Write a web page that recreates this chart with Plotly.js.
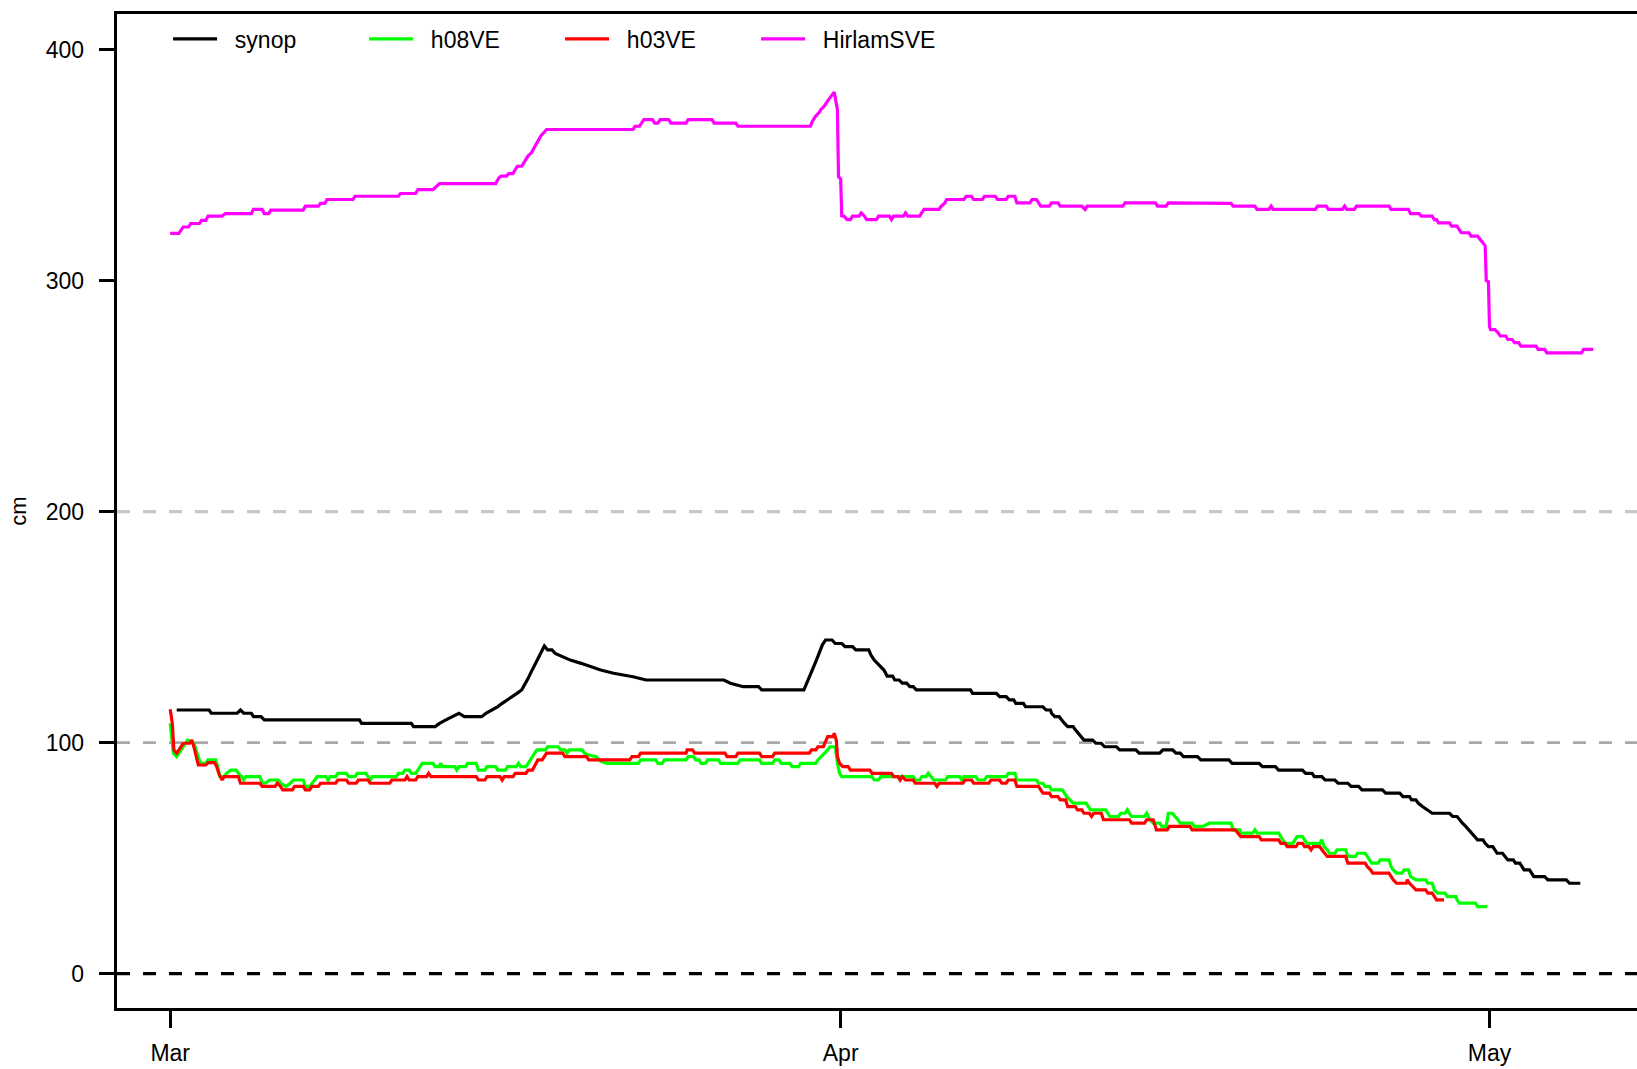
<!DOCTYPE html>
<html>
<head>
<meta charset="utf-8">
<script src="https://cdn.plot.ly/plotly-3.0.1.min.js"></script>
<style>
  html, body { margin: 0; padding: 0; background: #ffffff; overflow: hidden; }
  #chart { width: 1637px; height: 1069px; }
</style>
</head>
<body>
<div id="chart"></div>
<script>
// Snow depth (cm), spring season. Day offsets are counted from 1 March.
const seasonStart = [2008, 2, 1];

const monthTicks = ['2008-03-01', '2008-04-01', '2008-05-01'];
const monthLabels = ['Mar', 'Apr', 'May'];
const depthTicks = [0, 100, 200, 300, 400];
const refLevels = [0, 100, 200];

// synop observations
const synopDays = [
  0.3, 1.8, 1.9, 3.1, 3.25, 3.4, 3.75, 3.85, 4.2, 4.35,
  8.75, 8.85, 11.15, 11.25, 12.25, 12.45, 12.75, 13.05, 13.35, 13.6,
  14.4, 14.6, 14.9, 15.15, 15.35, 15.6, 15.85, 16.05, 16.25, 16.4,
  16.55, 16.7, 16.85, 17.0, 17.15, 17.3, 17.45, 17.65, 17.8, 18.1,
  18.5, 19.0, 19.45, 19.9, 20.5, 21.4, 22.0, 25.6, 25.9, 26.5,
  27.2, 27.35, 29.3, 29.4, 29.55, 29.7, 29.85, 30.0, 30.15, 30.3,
  30.6, 30.75, 31.05, 31.2, 31.55, 31.7, 32.3, 32.4, 32.55, 32.7,
  32.85, 33.0, 33.15, 33.4, 33.5, 33.7, 33.85, 34.05, 34.2, 34.35,
  34.5, 37.0, 37.1, 38.2, 38.35, 38.65, 38.8, 39.0, 39.1, 39.45,
  39.55, 40.35, 40.5, 40.7, 40.75, 40.9, 41.1, 41.2, 41.35, 41.5,
  41.75, 41.85, 42.0, 42.1, 42.25, 42.65, 42.8, 43.05, 43.2, 43.75,
  43.9, 44.65, 44.8, 45.75, 45.9, 46.35, 46.5, 46.7, 46.85, 47.5,
  47.65, 48.95, 49.1, 50.35, 50.5, 51.1, 51.25, 52.35, 52.5, 52.8,
  52.9, 53.25, 53.4, 53.85, 54.0, 54.45, 54.6, 54.95, 55.1, 56.05,
  56.2, 56.85, 57.0, 57.3, 57.4, 57.6, 57.7, 57.9, 58.15, 58.35,
  59.15, 59.3, 59.5, 59.6, 59.75, 59.9, 60.05, 60.2, 60.35, 60.45,
  60.7, 60.8, 60.95, 61.15, 61.25, 61.35, 61.6, 61.7, 61.85, 62.1,
  62.2, 62.4, 62.5, 62.6, 62.85, 62.95, 63.05, 63.55, 63.7, 64.55,
  64.7, 65.2
];
const synopCm = [
  114.1, 114.1, 112.7, 112.7, 114.1, 112.7, 112.7, 111.2, 111.2, 109.8,
  109.8, 108.3, 108.3, 106.9, 106.9, 108.3, 109.8, 111.2, 112.7, 111.2,
  111.2, 112.7, 114.1, 115.6, 117.0, 118.5, 119.9, 121.4, 122.8, 125.0,
  127.8, 130.7, 133.6, 136.5, 139.3, 141.8, 140.1, 140.1, 138.6, 137.2,
  135.7, 134.3, 132.8, 131.4, 130.0, 128.5, 127.1, 127.1, 125.7, 124.2,
  124.2, 122.8, 122.8, 125.0, 127.8, 131.7, 135.0, 138.6, 142.2, 144.4,
  144.4, 142.9, 142.9, 141.5, 141.5, 140.1, 140.1, 137.9, 135.7, 134.3,
  132.8, 131.4, 128.8, 128.8, 127.1, 127.1, 125.7, 125.7, 124.2, 124.2,
  122.8, 122.8, 121.3, 121.3, 119.9, 119.9, 118.5, 118.5, 117.0, 117.0,
  115.5, 115.5, 114.1, 114.1, 112.7, 111.2, 111.2, 109.8, 108.3, 106.9,
  106.9, 105.5, 104.0, 102.6, 101.1, 101.1, 99.7, 99.7, 98.2, 98.2,
  96.8, 96.8, 95.4, 95.4, 96.8, 96.8, 95.4, 95.4, 93.9, 93.9,
  92.5, 92.5, 91.0, 91.0, 89.6, 89.6, 88.1, 88.1, 86.7, 86.7,
  85.3, 85.3, 83.8, 83.8, 82.4, 82.4, 81.0, 81.0, 79.5, 79.5,
  78.1, 78.1, 76.6, 76.6, 75.2, 75.2, 73.8, 72.3, 70.9, 69.4,
  69.4, 68.0, 68.0, 66.6, 65.1, 63.7, 62.2, 60.8, 59.3, 57.9,
  57.9, 56.4, 55.0, 55.0, 53.6, 52.1, 52.1, 50.7, 49.2, 49.2,
  47.8, 47.8, 46.3, 44.9, 44.9, 43.5, 42.0, 42.0, 40.6, 40.6,
  39.1, 39.1
];

// h08VE model run
const h08Days = [
  0.0, 0.15, 0.3, 0.5, 0.8, 1.1, 1.25, 1.4, 1.65, 1.75,
  2.1, 2.2, 2.3, 2.5, 2.6, 2.8, 3.05, 3.15, 3.3, 3.4,
  3.5, 4.15, 4.25, 4.4, 4.6, 5.0, 5.1, 5.35, 5.55, 5.7,
  6.15, 6.25, 6.45, 6.55, 6.65, 6.8, 7.2, 7.3, 7.4, 7.65,
  7.75, 8.15, 8.25, 8.55, 8.65, 9.05, 9.15, 9.25, 9.35, 10.45,
  10.55, 10.75, 10.85, 11.05, 11.15, 11.35, 11.45, 11.55, 11.65, 12.15,
  12.25, 12.45, 12.5, 12.6, 13.15, 13.25, 13.35, 13.65, 13.75, 14.15,
  14.25, 14.55, 14.65, 15.05, 15.15, 15.5, 15.6, 16.0, 16.1, 16.2,
  16.45, 16.55, 16.65, 16.8, 16.95, 17.35, 17.45, 17.95, 18.05, 18.25,
  18.35, 18.45, 19.05, 19.15, 19.4, 19.7, 19.9, 20.2, 21.65, 21.75,
  22.45, 22.55, 22.75, 22.85, 23.85, 23.95, 24.2, 24.3, 24.45, 24.55,
  24.75, 24.85, 25.35, 25.45, 26.25, 26.35, 27.25, 27.35, 27.85, 27.95,
  28.15, 28.25, 28.65, 28.75, 29.05, 29.15, 29.85, 29.95, 30.1, 30.25,
  30.4, 30.5, 30.75, 30.85, 30.95, 31.05, 32.45, 32.55, 32.75, 32.85,
  34.35, 34.45, 34.65, 34.75, 34.95, 35.05, 35.15, 35.3, 35.85, 35.95,
  36.5, 36.6, 36.7, 37.25, 37.35, 37.65, 37.75, 38.65, 38.75, 39.05,
  39.15, 40.05, 40.15, 40.35, 40.45, 40.65, 40.75, 41.25, 41.35, 41.45,
  41.6, 41.75, 42.35, 42.45, 42.55, 43.25, 43.35, 43.45, 43.85, 43.95,
  44.15, 44.25, 44.35, 44.45, 45.05, 45.15, 45.3, 45.45, 45.75, 45.85,
  46.05, 46.15, 46.35, 46.45, 46.6, 46.7, 47.25, 47.35, 47.75, 48.05,
  49.05, 49.15, 49.45, 49.5, 50.05, 50.15, 50.25, 51.25, 51.35, 51.45,
  51.55, 51.9, 52.0, 52.1, 52.35, 52.45, 52.55, 53.15, 53.25, 53.35,
  53.5, 53.6, 53.85, 53.95, 54.35, 54.45, 54.8, 54.9, 55.25, 55.35,
  55.45, 55.55, 55.85, 55.95, 56.35, 56.45, 56.55, 56.7, 56.95, 57.05,
  57.25, 57.35, 57.6, 58.05, 58.15, 58.35, 58.45, 58.6, 58.95, 59.05,
  59.45, 59.5, 59.6, 60.35, 60.45, 60.9
];
const h08Cm = [
  108.3, 95.4, 93.9, 97.0, 101.1, 99.7, 95.0, 91.0, 91.0, 92.5,
  92.5, 89.6, 85.3, 85.3, 86.7, 88.1, 88.1, 86.7, 85.3, 83.8,
  85.3, 85.3, 82.4, 82.4, 83.8, 83.8, 82.4, 81.0, 82.4, 83.8,
  83.8, 81.0, 81.0, 82.4, 83.8, 85.3, 85.3, 83.8, 85.3, 85.3,
  86.7, 86.7, 85.3, 85.3, 86.7, 86.7, 85.3, 83.8, 85.3, 85.3,
  86.7, 86.7, 88.1, 88.1, 86.7, 86.7, 88.1, 89.6, 91.0, 91.0,
  89.6, 89.6, 91.0, 89.6, 89.6, 88.1, 89.6, 89.6, 91.0, 91.0,
  88.1, 88.1, 89.6, 89.6, 88.1, 88.1, 89.6, 89.6, 91.0, 89.6,
  89.6, 91.0, 92.5, 94.5, 96.8, 96.8, 98.2, 98.2, 96.8, 96.8,
  95.4, 96.8, 96.8, 95.4, 94.5, 93.9, 92.0, 91.0, 91.0, 92.5,
  92.5, 91.0, 91.0, 92.5, 92.5, 93.9, 93.9, 92.5, 92.5, 91.0,
  91.0, 92.5, 92.5, 91.0, 91.0, 92.5, 92.5, 91.0, 91.0, 92.5,
  92.5, 91.0, 91.0, 89.6, 89.6, 91.0, 91.0, 92.5, 93.9, 95.4,
  96.8, 98.2, 98.2, 91.0, 86.7, 85.3, 85.3, 83.8, 83.8, 85.3,
  85.3, 83.8, 83.8, 85.3, 85.3, 86.7, 85.3, 83.8, 83.8, 85.3,
  85.3, 83.8, 85.3, 85.3, 83.8, 83.8, 85.3, 85.3, 86.7, 86.7,
  83.8, 83.8, 82.4, 82.4, 81.0, 81.0, 79.5, 79.5, 78.1, 76.6,
  75.2, 73.8, 73.8, 72.3, 70.9, 70.9, 69.4, 68.0, 68.0, 69.4,
  69.4, 70.9, 69.4, 68.0, 68.0, 69.4, 66.6, 65.1, 65.1, 63.7,
  63.7, 69.4, 69.4, 68.0, 66.6, 65.1, 65.1, 63.7, 63.7, 65.1,
  65.1, 62.2, 62.2, 60.8, 60.8, 62.2, 60.8, 60.8, 59.3, 57.9,
  56.4, 56.4, 57.9, 59.3, 59.3, 57.9, 56.4, 56.4, 57.9, 55.0,
  53.6, 52.1, 52.1, 53.6, 53.6, 50.7, 50.7, 52.1, 52.1, 50.7,
  49.2, 47.8, 47.8, 49.2, 49.2, 46.3, 44.9, 43.5, 43.5, 44.9,
  44.9, 42.0, 40.6, 40.6, 39.1, 39.1, 36.2, 34.8, 34.8, 33.3,
  33.3, 31.9, 30.5, 30.5, 29.0, 29.0
];

// h03VE model run
const h03Days = [
  0.0, 0.1, 0.17, 0.3, 0.45, 0.6, 0.9, 1.0, 1.1, 1.2,
  1.3, 1.65, 1.75, 2.05, 2.15, 2.25, 2.4, 2.5, 3.15, 3.25,
  4.15, 4.25, 4.85, 4.95, 5.1, 5.2, 5.65, 5.75, 6.15, 6.25,
  6.45, 6.55, 6.85, 6.95, 7.65, 7.75, 8.15, 8.25, 8.6, 8.7,
  9.15, 9.25, 10.15, 10.25, 10.85, 10.95, 11.05, 11.35, 11.45, 11.85,
  11.95, 12.05, 14.15, 14.25, 14.55, 14.65, 15.25, 15.35, 15.45, 15.85,
  15.95, 16.45, 16.55, 16.75, 16.85, 17.0, 17.2, 17.3, 17.4, 18.15,
  18.25, 19.25, 19.35, 21.25, 21.35, 21.65, 21.75, 23.85, 23.9, 24.15,
  24.25, 25.65, 25.75, 26.15, 26.25, 27.25, 27.35, 27.85, 27.95, 29.55,
  29.65, 29.85, 29.95, 30.2, 30.3, 30.4, 30.65, 30.7, 30.8, 30.85,
  30.95, 31.1, 31.35, 31.45, 32.35, 32.45, 33.35, 33.45, 33.65, 33.75,
  33.85, 34.0, 34.35, 34.45, 35.35, 35.45, 35.55, 36.65, 36.75, 37.05,
  37.15, 37.85, 37.95, 38.35, 38.45, 38.65, 38.75, 39.05, 39.15, 40.15,
  40.25, 40.35, 40.65, 40.75, 41.05, 41.15, 41.4, 41.5, 41.85, 41.95,
  42.15, 42.25, 42.5, 42.6, 42.7, 43.05, 43.15, 44.35, 44.45, 45.05,
  45.15, 45.45, 45.55, 45.6, 46.1, 46.2, 47.15, 47.25, 49.25, 49.35,
  49.5, 50.35, 50.45, 51.25, 51.35, 51.55, 51.65, 52.05, 52.15, 52.35,
  52.45, 52.65, 52.75, 52.85, 53.15, 53.25, 53.4, 53.5, 54.35, 54.45,
  55.25, 55.35, 55.5, 55.6, 56.35, 56.45, 56.55, 56.7, 57.15, 57.2,
  57.3, 57.45, 57.6, 58.05, 58.15, 58.35, 58.45, 58.55, 58.9
];
const h03Cm = [
  114.4, 108.0, 96.8, 95.4, 97.5, 99.7, 99.7, 101.1, 98.0, 94.0,
  90.3, 90.3, 91.3, 91.3, 89.6, 86.5, 83.8, 85.3, 85.3, 82.4,
  82.4, 81.0, 81.0, 82.4, 81.0, 79.5, 79.5, 81.0, 81.0, 79.5,
  79.5, 81.0, 81.0, 82.4, 82.4, 83.8, 83.8, 82.4, 82.4, 83.8,
  83.8, 82.4, 82.4, 83.8, 83.8, 85.3, 83.8, 83.8, 85.3, 85.3,
  86.7, 85.3, 85.3, 83.8, 83.8, 85.3, 85.3, 83.8, 85.3, 85.3,
  86.7, 86.7, 88.1, 88.1, 89.6, 92.5, 92.5, 93.9, 95.4, 95.4,
  93.9, 93.9, 92.5, 92.5, 93.9, 93.9, 95.4, 95.4, 96.8, 96.8,
  95.4, 95.4, 93.9, 93.9, 95.4, 95.4, 93.9, 93.9, 95.4, 95.4,
  96.8, 96.8, 98.2, 98.2, 100.4, 102.6, 102.6, 104.0, 101.0, 94.0,
  91.0, 89.6, 89.6, 88.1, 88.1, 86.7, 86.7, 85.3, 85.3, 83.8,
  85.3, 83.8, 83.8, 82.4, 82.4, 81.0, 82.4, 82.4, 83.8, 83.8,
  82.4, 82.4, 83.8, 83.8, 82.4, 82.4, 83.8, 83.8, 81.0, 81.0,
  79.5, 78.1, 78.1, 76.6, 76.6, 75.2, 75.2, 72.3, 72.3, 70.9,
  70.9, 69.4, 69.4, 68.0, 69.4, 69.4, 66.6, 66.6, 65.1, 65.1,
  66.6, 66.6, 63.7, 62.2, 62.2, 63.7, 63.7, 62.2, 62.2, 60.8,
  59.3, 59.3, 57.9, 57.9, 56.4, 56.4, 55.0, 55.0, 56.4, 56.4,
  55.0, 55.0, 53.6, 55.0, 55.0, 53.6, 52.1, 50.7, 50.7, 47.8,
  47.8, 46.3, 44.9, 43.5, 43.5, 42.0, 40.6, 39.1, 39.1, 40.6,
  39.1, 37.7, 36.2, 36.2, 34.8, 34.8, 33.3, 31.9, 31.9
];

// HirlamSVE
const hirlamDays = [
  0.0, 0.4, 0.5, 0.6, 0.85, 0.95, 1.35, 1.45, 1.65, 1.75,
  2.4, 2.55, 3.75, 3.85, 4.25, 4.35, 4.55, 4.65, 6.15, 6.25,
  6.85, 6.95, 7.15, 7.25, 8.45, 8.55, 10.55, 10.65, 11.35, 11.45,
  12.15, 12.3, 12.45, 15.05, 15.2, 15.3, 15.55, 15.65, 15.85, 15.95,
  16.05, 16.25, 16.4, 16.55, 16.7, 16.85, 17.0, 17.15, 17.3, 17.4,
  21.4, 21.5, 21.7, 21.8, 21.9, 22.3, 22.4, 22.55, 22.65, 23.05,
  23.15, 23.85, 23.95, 25.05, 25.15, 26.15, 26.25, 29.6, 29.7, 29.85,
  30.0, 30.1, 30.25, 30.4, 30.55, 30.7, 30.85, 30.9, 31.0, 31.05,
  31.15, 31.3, 31.45, 31.55, 31.85, 31.95, 32.1, 32.2, 32.65, 32.75,
  33.25, 33.35, 33.45, 33.9, 34.0, 34.1, 34.65, 34.75, 34.85, 35.55,
  35.65, 35.8, 35.9, 36.7, 36.8, 37.05, 37.15, 37.55, 37.65, 38.15,
  38.25, 38.65, 38.75, 39.05, 39.15, 39.75, 39.85, 40.05, 40.15, 40.25,
  40.65, 40.75, 41.05, 41.15, 42.15, 42.3, 42.4, 44.05, 44.15, 45.55,
  45.65, 46.05, 46.15, 49.05, 49.15, 50.15, 50.25, 50.8, 50.9, 51.0,
  52.95, 53.05, 53.45, 53.55, 54.2, 54.3, 54.4, 54.75, 54.85, 56.35,
  56.45, 57.25, 57.35, 57.75, 57.85, 58.35, 58.45, 58.55, 58.65, 59.15,
  59.25, 59.5, 59.6, 59.7, 60.05, 60.15, 60.45, 60.55, 60.7, 60.8,
  60.85, 60.95, 61.0, 61.05, 61.25, 61.4, 61.5, 61.75, 61.85, 62.05,
  62.15, 62.35, 62.45, 63.15, 63.25, 63.55, 63.65, 65.25, 65.35, 65.8
];
const hirlamCm = [
  320.4, 320.4, 321.8, 323.2, 323.2, 324.7, 324.7, 326.1, 326.1, 327.9,
  327.9, 329.0, 329.0, 330.8, 330.8, 329.0, 329.0, 330.5, 330.5, 332.2,
  332.2, 333.4, 333.4, 335.1, 335.1, 336.5, 336.5, 337.7, 337.7, 339.4,
  339.4, 340.8, 342.0, 342.0, 344.5, 345.2, 345.2, 346.3, 346.3, 348.0,
  349.5, 349.5, 352.0, 354.0, 355.3, 358.0, 360.0, 362.8, 364.3, 365.4,
  365.4, 366.8, 366.8, 368.2, 369.7, 369.7, 368.2, 368.2, 369.7, 369.7,
  368.2, 368.2, 369.7, 369.7, 368.2, 368.2, 366.8, 366.8, 369.1, 371.2,
  372.7, 374.2, 375.6, 377.8, 379.9, 381.6, 374.0, 345.0, 344.0, 328.0,
  327.9, 326.4, 326.4, 327.9, 327.9, 329.3, 327.9, 326.4, 326.4, 327.9,
  327.9, 326.4, 327.9, 327.9, 329.3, 327.9, 327.9, 329.3, 330.8, 330.8,
  332.2, 333.4, 335.1, 335.1, 336.5, 336.5, 335.1, 335.1, 336.5, 336.5,
  335.1, 335.1, 336.5, 336.5, 333.6, 333.6, 335.1, 335.1, 333.6, 332.2,
  332.2, 333.6, 333.6, 332.2, 332.2, 330.8, 332.2, 332.2, 333.6, 333.6,
  332.2, 332.2, 333.6, 333.4, 332.2, 332.2, 330.8, 330.8, 332.2, 330.8,
  330.8, 332.2, 332.2, 330.8, 330.8, 332.2, 330.8, 330.8, 332.2, 332.2,
  330.8, 330.8, 329.0, 329.0, 327.9, 327.9, 326.4, 326.4, 325.0, 325.0,
  323.6, 323.6, 322.1, 320.7, 320.7, 319.2, 319.2, 317.8, 316.3, 315.0,
  300.0, 299.5, 280.0, 278.8, 278.8, 277.4, 276.0, 276.0, 274.5, 274.5,
  273.1, 273.1, 271.6, 271.6, 270.2, 270.2, 268.7, 268.7, 270.2, 270.2
];

const seriesNames = ['synop', 'h08VE', 'h03VE', 'HirlamSVE'];
const seriesColors = ['#000000', '#00ff00', '#ff0000', '#ff00ff'];

// Convert day offsets into date strings for the date axis
const t0 = Date.UTC(seasonStart[0], seasonStart[1], seasonStart[2]);
function dayToDate(d) {
  const s = new Date(t0 + Math.round(d * 86400000)).toISOString();
  return s.slice(0, 10) + ' ' + s.slice(11, 19);
}

const dayArrays = [synopDays, h08Days, h03Days, hirlamDays];
const cmArrays = [synopCm, h08Cm, h03Cm, hirlamCm];

// legend labels sit a little further from their line keys
const legendPad = '\u00a0\u00a0';

const traces = seriesNames.map((name, i) => ({
  type: 'scatter',
  mode: 'lines',
  name: legendPad + name,
  x: dayArrays[i].map(dayToDate),
  y: cmArrays[i],
  line: { color: seriesColors[i], width: 3.2, shape: 'linear' },
  hoverinfo: 'x+y'
}));

const refStyles = [
  { color: '#000000', width: 3.4, dash: '13px,13px' },
  { color: '#a8a8a8', width: 2.6, dash: '13px,13px' },
  { color: '#c8c8c8', width: 3.2, dash: '13px,13px' }
];
const shapes = refLevels.map((lvl, i) => ({
  type: 'line', xref: 'paper', yref: 'y',
  x0: 0, x1: 1, y0: lvl, y1: lvl,
  layer: 'below',
  line: refStyles[i]
}));

const fontFamily = '"Liberation Sans", Arial, Helvetica, sans-serif';

const layout = {
  width: 1637,
  height: 1069,
  paper_bgcolor: '#ffffff',
  plot_bgcolor: '#ffffff',
  margin: { l: 117, r: 0, t: 14, b: 61, pad: 0 },
  font: { family: fontFamily, size: 23, color: '#000000' },
  showlegend: true,
  legend: {
    orientation: 'h',
    x: 0.0336, xanchor: 'left',
    y: 0.975, yanchor: 'middle',
    bgcolor: 'rgba(0,0,0,0)',
    borderwidth: 0,
    itemwidth: 44,
    entrywidth: 137,
    font: { family: fontFamily, size: 23, color: '#000000' },
    traceorder: 'normal'
  },
  xaxis: {
    type: 'date',
    range: [dayToDate(-2.46), dayToDate(67.82)],
    tickmode: 'array',
    tickvals: monthTicks,
    ticktext: monthLabels,
    ticks: 'outside',
    ticklen: 17,
    tickwidth: 3,
    tickcolor: '#000000',
    ticklabelstandoff: 5,
    showline: true,
    linecolor: '#000000',
    linewidth: 3.4,
    mirror: true,
    showgrid: false,
    zeroline: false,
    tickfont: { family: fontFamily, size: 23, color: '#000000' }
  },
  yaxis: {
    range: [-14.9, 415.4],
    tickmode: 'array',
    tickvals: depthTicks,
    ticktext: depthTicks.map(String),
    ticks: 'outside',
    ticklen: 15,
    tickwidth: 3,
    tickcolor: '#000000',
    ticklabelstandoff: 10,
    showline: true,
    linecolor: '#000000',
    linewidth: 3.4,
    mirror: false,
    showgrid: false,
    zeroline: false,
    tickfont: { family: fontFamily, size: 23, color: '#000000' },
    title: { text: 'cm', font: { family: fontFamily, size: 22, color: '#000000' }, standoff: 14 }
  },
  shapes: shapes
};

Plotly.newPlot('chart', traces, layout, { displayModeBar: false, staticPlot: true });
</script>
</body>
</html>
